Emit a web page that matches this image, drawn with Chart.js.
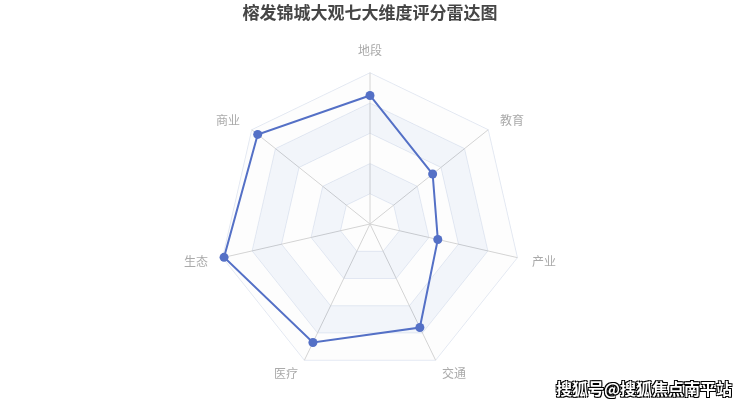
<!DOCTYPE html>
<html>
<head>
<meta charset="utf-8">
<script src="https://cdn.jsdelivr.net/npm/chart.js@4/dist/chart.umd.min.js"></script>
<style>
  html, body { margin: 0; padding: 0; background: #fff; }
  #wrap { position: relative; width: 740px; height: 406px; }
  #mark {
    position: absolute; left: 556px; top: 376px;
    font: bold 16px "Noto Sans CJK SC", sans-serif;
    color: #fff; letter-spacing: 0px;
    text-shadow: 1px 1px 0 #000, -1px -1px 0 #000, 1px -1px 0 #000, -1px 1px 0 #000;
  }
</style>
</head>
<body>
<div id="wrap">
  <canvas id="chart-radar" width="740" height="406"></canvas>
  <div id="mark">搜狐号@搜狐焦点南平站</div>
</div>
<script>
var titleText = "榕发锦城大观七大维度评分雷达图";
var dimensions = ["地段", "教育", "产业", "交通", "医疗", "生态", "商业"];
var scores = [85, 53, 46, 76, 87, 99, 95];
var scoreMax = 100;
var splitStep = 20;

var cjk = '"Noto Sans CJK SC", "Noto Sans", sans-serif';

// alternating split areas like the echarts radar
var splitAreaPlugin = {
  id: 'splitArea',
  beforeDatasetsDraw: function(chart) {
    var scale = chart.scales.r;
    var ctx = chart.ctx;
    var n = chart.data.labels.length;
    var colors = ['rgba(250,250,250,0.3)', 'rgba(210,219,238,0.28)'];
    ctx.save();
    for (var lv = 0; lv < scoreMax / splitStep; lv++) {
      var inner = lv * splitStep, outer = (lv + 1) * splitStep;
      ctx.beginPath();
      for (var i = 0; i < n; i++) {
        var p = scale.getPointPositionForValue(i, outer);
        if (i == 0) ctx.moveTo(p.x, p.y); else ctx.lineTo(p.x, p.y);
      }
      ctx.closePath();
      for (var j = n - 1; j >= 0; j--) {
        var q = scale.getPointPositionForValue(j, inner);
        if (j == n - 1) ctx.moveTo(q.x, q.y); else ctx.lineTo(q.x, q.y);
      }
      ctx.closePath();
      ctx.fillStyle = colors[lv % 2];
      ctx.fill('evenodd');
    }
    ctx.restore();
  }
};

var ctx = document.getElementById("chart-radar").getContext("2d");
var chart = new Chart(ctx, {
  type: "radar",
  data: {
    labels: dimensions,
    datasets: [{
      label: "评分",
      data: scores,
      borderColor: '#5470c6',
      backgroundColor: '#5470c6',
      borderWidth: 2,
      pointRadius: 4.5,
      pointBackgroundColor: '#5470c6',
      pointBorderWidth: 0,
      fill: false
    }]
  },
  options: {
    responsive: false,
    animation: false,
    layout: { padding: { top: 0, bottom: 15, left: 20, right: 20 } },
    plugins: {
      legend: { display: false },
      tooltip: { enabled: false },
      title: {
        display: true,
        text: titleText,
        color: '#464646',
        font: { family: cjk, size: 17, weight: 'bold' },
        padding: { top: 2, bottom: 7 }
      }
    },
    scales: {
      r: {
        min: 0,
        max: scoreMax,
        ticks: { display: false, stepSize: splitStep },
        grid: { color: '#e0e6f1', lineWidth: 1 },
        angleLines: { color: '#c4c4c4', lineWidth: 1 },
        pointLabels: {
          color: '#aaaaaa',
          padding: 15,
          // top label sits above the axis end, the others are centred on it
          font: function(c) {
            return { family: cjk, size: 12, lineHeight: c.index == 0 ? 1.2 : 0.01 };
          }
        }
      }
    }
  },
  plugins: [splitAreaPlugin]
});
</script>
</body>
</html>
